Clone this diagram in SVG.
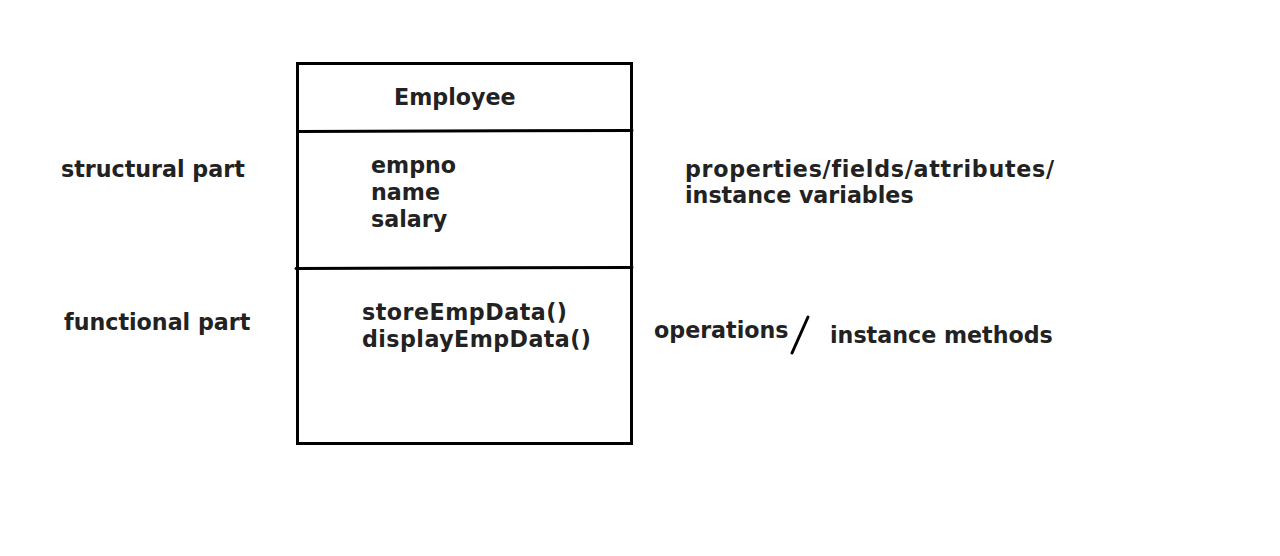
<svg xmlns="http://www.w3.org/2000/svg" width="1280" height="556" viewBox="0 0 1280 556">
<style>
text{font-family:"DejaVu Sans",Verdana,sans-serif;font-weight:bold;font-size:22.2px;fill:#222;font-variant-ligatures:none}
.ln{stroke:#000;stroke-width:3;fill:none;stroke-linecap:round}
</style>
<rect width="1280" height="556" fill="#fff"/>
<g id="class-employee">
<rect x="297.5" y="63.5" width="334" height="380" class="ln" stroke-linecap="butt"/>
<path class="ln" d="M298 131.5 L632 130.5"/>
<path class="ln" d="M296 268.5 L632 267.5"/>
<text x="394" y="105">Employee</text>
<text x="371" y="173">empno</text>
<text x="371" y="200">name</text>
<text x="371" y="227">salary</text>
<text x="362" y="320" textLength="205" lengthAdjust="spacing">storeEmpData()</text>
<text x="362" y="347" textLength="229" lengthAdjust="spacing">displayEmpData()</text>
</g>
<g id="label-structural"><text x="61" y="177">structural part</text></g>
<g id="label-functional"><text x="64" y="330">functional part</text></g>
<g id="label-properties">
<text x="685" y="177" textLength="369" lengthAdjust="spacing">properties/fields/attributes/</text>
<text x="685" y="203">instance variables</text>
</g>
<g id="label-operations">
<text x="654" y="338">operations</text>
<text x="830" y="343">instance methods</text>
</g>
<g id="connectors">
<path class="ln" stroke-width="3.5" d="M808 317 L792 353"/>
</g>
</svg>
